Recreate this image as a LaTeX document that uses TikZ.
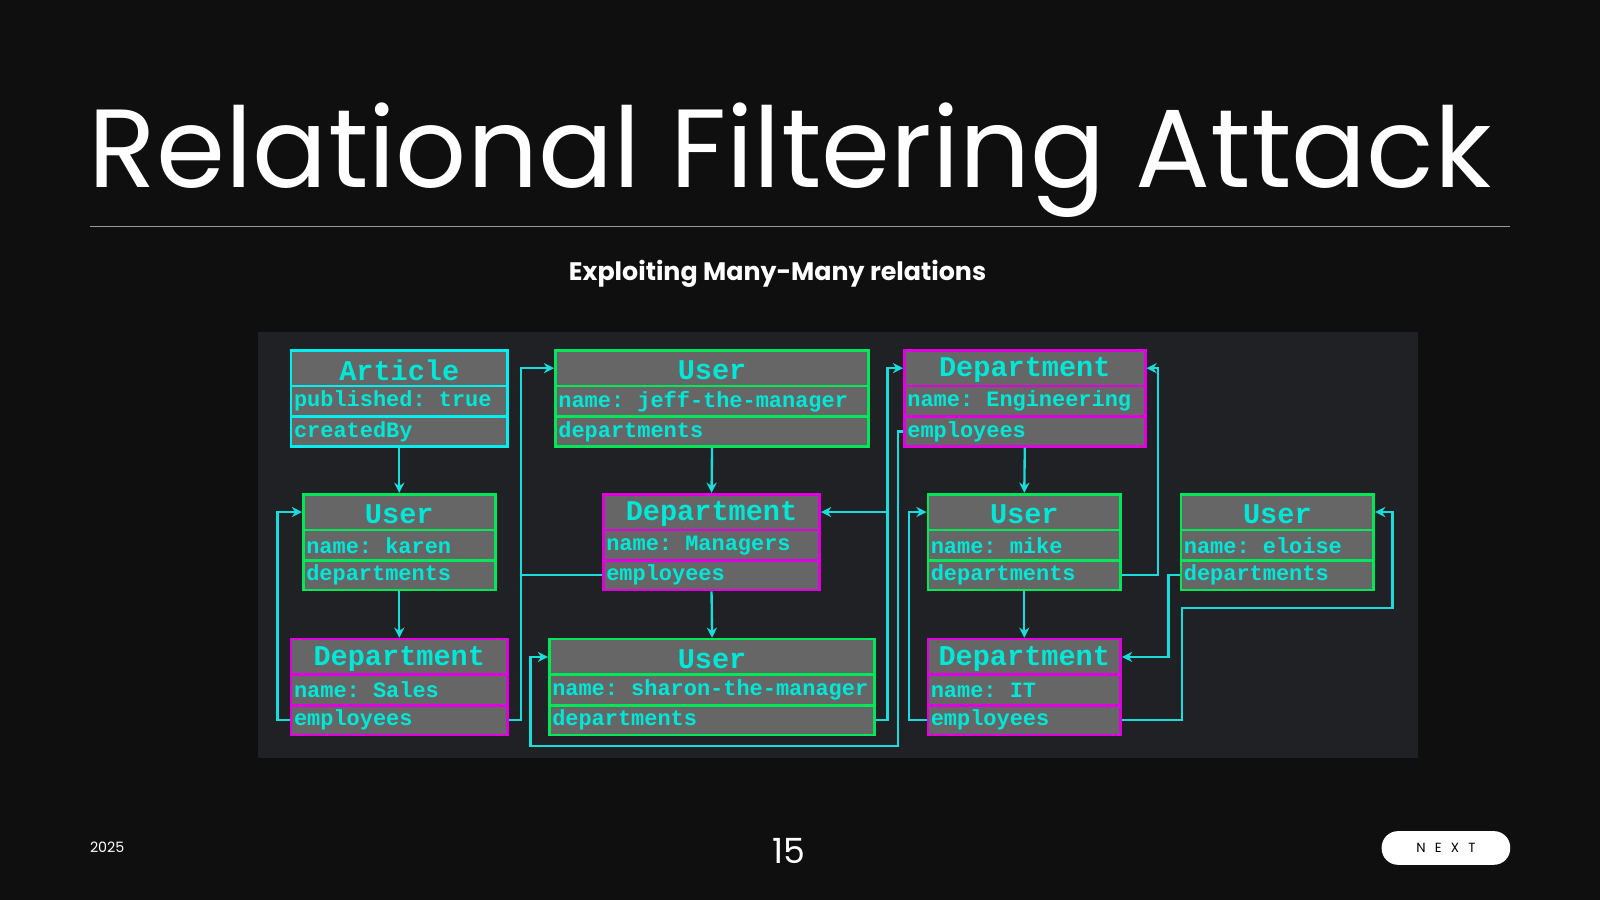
\documentclass[tikz,border=0pt]{standalone}
\usepackage{fontspec}
\setmainfont{Poppins}
\newfontfamily\monob{Liberation Mono}
\usetikzlibrary{arrows.meta}
\frenchspacing
\definecolor{pagebg}{HTML}{0F0F0F}
\definecolor{panel}{HTML}{202124}
\definecolor{cell}{HTML}{666666}
\definecolor{cyn}{HTML}{00E8D8}
\definecolor{grn}{HTML}{00E85A}
\definecolor{mag}{HTML}{E000E0}
\definecolor{acyan}{HTML}{00F0F0}
\definecolor{wire}{HTML}{19DCDC}
\tikzset{
  cellbox/.style={draw=#1, fill=cell, line width=2.6pt, inner sep=0pt, anchor=north west},
  hdtext/.style={text=cyn, font=\monob\bfseries\fontsize{28}{28}\selectfont, inner sep=0pt},
  rowtext/.style={text=cyn, font=\monob\bfseries\fontsize{21.5}{22}\selectfont, inner sep=0pt, anchor=west},
  wirel/.style={draw=wire, line width=2.3pt, -{Stealth[length=10pt,width=10pt]}},
  wiren/.style={draw=wire, line width=2.3pt},
}
\newcommand\ent[8]{%
  \node[cellbox=#5, minimum width=#4pt, minimum height=35pt] (#1-h) at (#2,#3) {};
  \node[hdtext] at ([yshift=-2pt]#1-h.center) {\frenchspacing #6};
  \node[cellbox=#5, minimum width=#4pt, minimum height=30pt] (#1-1) at (#2,{#3+35}) {};
  \node[rowtext] at ([xshift=4pt]#1-1.west) {\frenchspacing #7};
  \node[cellbox=#5, minimum width=#4pt, minimum height=29pt] (#1-2) at (#2,{#3+65}) {};
  \node[rowtext] at ([xshift=4pt]#1-2.west) {\frenchspacing #8};
}
\begin{document}
\begin{tikzpicture}[x=1pt,y=-1pt]
\fill[pagebg] (0,0) rectangle (1568,882);
\useasboundingbox (0,0) rectangle (1568,882);
\node[text=white, font=\fontsize{109}{109}\selectfont, anchor=base west, inner sep=0pt] (title) at (87,184) {Relational Filtering Attack};
\draw[gray!80, line width=1pt] (88,222) -- (1480,222);
\node[text=white, font=\bfseries\fontsize{24.8}{25}\selectfont] (sub) at (762,268) {Exploiting Many-Many relations};
\fill[panel] (253,325) rectangle (1390,743);
\ent{art}{284}{342}{212}{acyan}{Article}{published: true}{createdBy}
\ent{jeff}{543}{342}{307}{grn}{User}{name: jeff-the-manager}{departments}
\ent{eng}{885}{342}{236}{mag}{Department}{name: Engineering}{employees}
\ent{karen}{296}{483}{188}{grn}{User}{name: karen}{departments}
\ent{man}{590}{483}{212}{mag}{Department}{name: Managers}{employees}
\ent{mike}{908}{483}{189}{grn}{User}{name: mike}{departments}
\ent{eloise}{1156}{483}{189}{grn}{User}{name: eloise}{departments}
\ent{sales}{284}{625}{212}{mag}{Department}{name: Sales}{employees}
\ent{sharon}{537}{625}{319}{grn}{User}{name: sharon-the-manager}{departments}
\ent{it}{908}{625}{189}{mag}{Department}{name: IT}{employees}
% vertical links
\draw[wirel] (art-2.south) -- (karen-h.north);
\draw[wirel] (karen-2.south) -- (sales-h.north);
\draw[wirel] (jeff-2.south) -- (man-h.north);
\draw[wirel] (man-2.south) -- (sharon-h.north);
\draw[wirel] (eng-2.south) -- (mike-h.north);
\draw[wirel] (mike-2.south) -- (it-h.north);
% side links
\draw[wirel] (sales-2.west) -- ++(-12,0) |- (karen-h.west);
\draw[wirel] (sales-2.east) -- ++(12,0) |- (jeff-h.west);
\coordinate (mj) at ([xshift=12pt]sales-2.east |- man-2.west);
\draw[wiren] (man-2.west) -- (mj);
\draw[wirel] (sharon-2.east) -- ++(11,0) |- (eng-h.west);
\coordinate (sm) at ([xshift=11pt]sharon-2.east |- man-h.east);
\draw[wirel] (sm) -- (man-h.east);
\draw[wirel] (eng-2.west) -- ++(-5,0) -- ++(0,308) -| ([xshift=-17pt]sharon-h.west) -- (sharon-h.west);
\draw[wirel] (mike-2.east) -- ++(35,0) |- (eng-h.east);
\draw[wirel] (it-2.west) -- ++(-17,0) |- (mike-h.west);
\draw[wirel] (eloise-2.west) -- ++(-11,0) |- (it-h.east);
\draw[wirel] (it-2.east) -- ++(59,0) -- ++(0,-110) -- ++(206,0) |- (eloise-h.east);
% footer
\node[text=white, font=\fontsize{14}{14}\selectfont, anchor=west, inner sep=0pt] (yr) at (88,830) {2025};
\node[text=white, font=\fontsize{34}{34}\selectfont] (pg) at (773,834) {15};
\node[fill=white, rounded corners=16pt, minimum width=126pt, minimum height=33pt, inner sep=0pt, font=\fontsize{13}{13}\selectfont] (nxt) at (1417,831) {N\hspace{9pt}E\hspace{9pt}X\hspace{9pt}T};
\end{tikzpicture}
\end{document}
